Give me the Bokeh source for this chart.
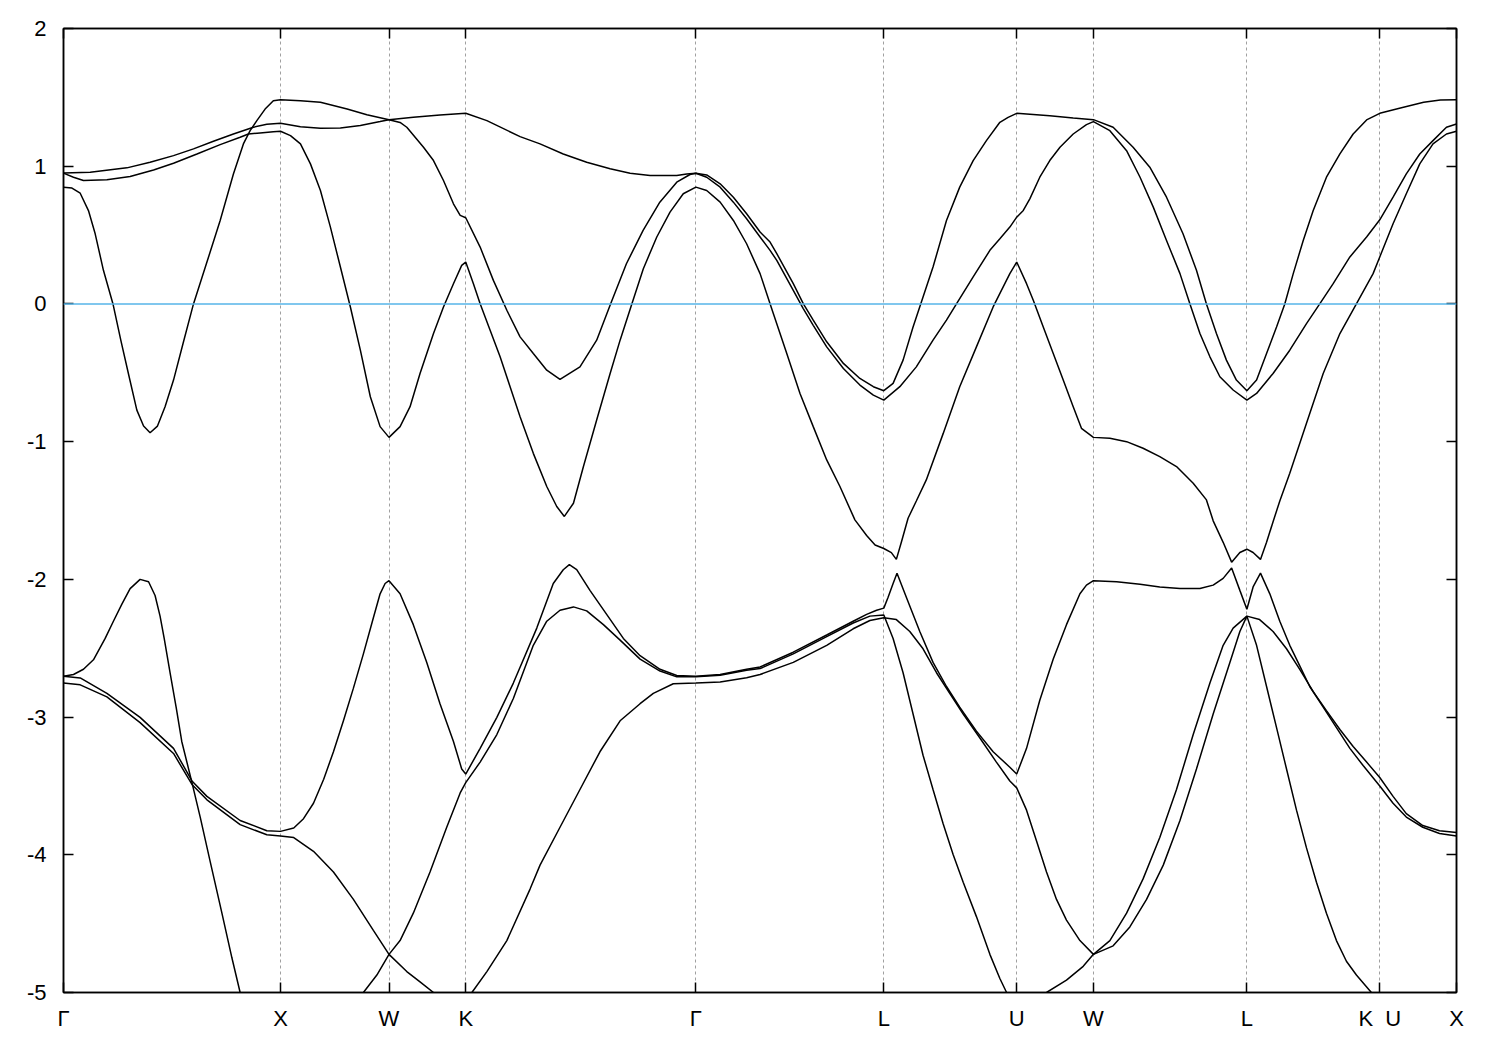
from bokeh.plotting import figure
from bokeh.models import Range1d, FixedTicker, LinearAxis, Span
from bokeh.embed import file_html
from bokeh.resources import INLINE

# high-symmetry points along the path (k in units of 2*pi/a)
tick_k = [0.0, 1.0, 1.5, 1.8536, 2.9142, 3.7802, 4.3926, 4.7462, 5.4533, 6.0657, 6.4193]
tick_labels = ["Γ", "X", "W", "K", "Γ", "L", "U", "W", "L", "K\u00a0\u00a0U", "X"]
y_ticks = [2, 1, 0, -1, -2, -3, -4, -5]
fermi_level = 0.0

# ---- bands (k, E in eV) ----
band1_k = [0, 0.123, 0.292, 0.399, 0.507, 0.599, 0.691, 0.783, 0.875, 0.937, 1.0,
           1.092, 1.184, 1.276, 1.368, 1.459, 1.5,
           1.612, 1.735, 1.8536,
           1.951, 2.104, 2.196, 2.303, 2.411, 2.519, 2.611, 2.703, 2.826, 2.872, 2.9142,
           2.964, 3.026, 3.087, 3.148, 3.210, 3.256, 3.287, 3.363, 3.409, 3.455, 3.517, 3.594, 3.670, 3.732, 3.7802,
           3.823, 3.869, 3.915, 3.961, 4.007, 4.069, 4.130, 4.192, 4.253, 4.315, 4.353, 4.3926,
           4.545, 4.653, 4.7462,
           4.837, 4.929, 5.006, 5.083, 5.159, 5.221, 5.267, 5.313, 5.359, 5.405, 5.4533,
           5.498, 5.544, 5.590, 5.628, 5.667, 5.713, 5.759, 5.820, 5.882, 5.943, 6.005, 6.0657, 6.161, 6.268, 6.345, 6.4193]
band1_e = [0.95, 0.957, 0.988, 1.029, 1.077, 1.126, 1.181, 1.234, 1.283, 1.304, 1.312,
           1.287, 1.275, 1.278, 1.295, 1.324, 1.338,
           1.355, 1.372, 1.384,
           1.331, 1.215, 1.162, 1.089, 1.029, 0.981, 0.949, 0.932, 0.932, 0.944, 0.949,
           0.937, 0.872, 0.775, 0.655, 0.522, 0.449, 0.365, 0.147, 0.002, -0.118, -0.275, -0.432, -0.541, -0.601, -0.630,
           -0.577, -0.408, -0.167, 0.051, 0.268, 0.606, 0.848, 1.041, 1.186, 1.319, 1.355, 1.384,
           1.367, 1.350, 1.338,
           1.283, 1.138, 0.993, 0.775, 0.510, 0.244, 0.0, -0.215, -0.408, -0.553, -0.630,
           -0.553, -0.360, -0.167, 0.0, 0.220, 0.461, 0.679, 0.920, 1.089, 1.234, 1.336, 1.384, 1.423, 1.464, 1.481, 1.483]

band2_k = [0, 0.046, 0.092, 0.200, 0.307, 0.415, 0.507, 0.615, 0.722, 0.814, 0.852, 0.906, 0.967, 1.0,
           1.046, 1.092, 1.138, 1.184, 1.230, 1.276, 1.322, 1.368, 1.414, 1.459, 1.5, 1.551, 1.597, 1.643, 1.705, 1.751, 1.797, 1.835, 1.8536,
           1.889, 1.920, 1.966, 2.012, 2.058, 2.104, 2.165, 2.227, 2.273, 2.308, 2.350, 2.396, 2.457, 2.519, 2.565, 2.619, 2.672, 2.734, 2.795, 2.856, 2.9142,
           2.964, 3.026, 3.087, 3.148, 3.210, 3.256, 3.271, 3.333, 3.394, 3.455, 3.517, 3.578, 3.647, 3.701, 3.740, 3.7802,
           3.815, 3.838, 3.861, 3.892, 3.930, 3.976, 4.054, 4.130, 4.207, 4.284, 4.361, 4.3926,
           4.438, 4.469, 4.515, 4.561, 4.607, 4.653, 4.691, 4.7462,
           4.822, 4.899, 4.975, 5.052, 5.129, 5.206, 5.267, 5.298, 5.344, 5.383, 5.421, 5.4533,
           5.482, 5.516, 5.544, 5.574, 5.605, 5.651, 5.728, 5.805, 5.882, 5.958, 6.035, 6.0657, 6.127, 6.188, 6.250, 6.311, 6.373, 6.4193]
band2_e = [0.95, 0.920, 0.896, 0.901, 0.925, 0.973, 1.022, 1.089, 1.157, 1.210, 1.234, 1.242, 1.251, 1.254,
           1.222, 1.162, 1.017, 0.824, 0.558, 0.268, -0.022, -0.336, -0.674, -0.891, -0.969, -0.891, -0.746, -0.505, -0.215, -0.022, 0.147, 0.280, 0.304,
           0.147, 0.002, -0.191, -0.384, -0.601, -0.819, -1.085, -1.326, -1.471, -1.543, -1.447, -1.181, -0.843, -0.505, -0.263, 0.0, 0.256, 0.486, 0.667, 0.800, 0.848,
           0.824, 0.739, 0.606, 0.437, 0.220, 0.002, -0.070, -0.360, -0.650, -0.891, -1.133, -1.326, -1.568, -1.681, -1.751, -1.776,
           -1.806, -1.855, -1.731, -1.556, -1.431, -1.278, -0.940, -0.601, -0.312, -0.022, 0.220, 0.304,
           0.147, 0.027, -0.167, -0.360, -0.553, -0.746, -0.903, -0.969,
           -0.976, -1.000, -1.048, -1.109, -1.181, -1.302, -1.423, -1.575, -1.731, -1.875, -1.805, -1.781,
           -1.805, -1.855, -1.731, -1.581, -1.431, -1.229, -0.867, -0.505, -0.215, 0.0, 0.220, 0.341, 0.582, 0.800, 1.017, 1.162, 1.234, 1.254]

band3_k = [0, 0.039, 0.077, 0.115, 0.146, 0.184, 0.228, 0.264, 0.299, 0.338, 0.369, 0.399, 0.433, 0.468, 0.507, 0.553, 0.599, 0.661, 0.722, 0.783, 0.829, 0.860, 0.891, 0.929, 0.967, 1.0,
           1.092, 1.184, 1.307, 1.398, 1.5,
           1.551, 1.582, 1.659, 1.705, 1.751, 1.797, 1.828, 1.8536,
           1.920, 1.981, 2.043, 2.104, 2.165, 2.227, 2.288, 2.380, 2.457, 2.521, 2.594, 2.671, 2.748, 2.826, 2.887, 2.9142,
           2.964, 3.026, 3.087, 3.148, 3.210, 3.256, 3.287, 3.363, 3.409, 3.455, 3.517, 3.594, 3.670, 3.732, 3.7802,
           3.854, 3.930, 4.007, 4.069, 4.115, 4.192, 4.269, 4.315, 4.361, 4.3926,
           4.423, 4.453, 4.499, 4.545, 4.592, 4.653, 4.714, 4.7462,
           4.822, 4.899, 4.961, 5.022, 5.083, 5.145, 5.191, 5.237, 5.283, 5.329, 5.390, 5.4533,
           5.498, 5.574, 5.651, 5.728, 5.789, 5.851, 5.928, 6.005, 6.0657, 6.127, 6.188, 6.250, 6.311, 6.373, 6.4193]
band3_e = [0.848, 0.841, 0.804, 0.678, 0.509, 0.244, 0.0, -0.263, -0.505, -0.771, -0.887, -0.935, -0.887, -0.746, -0.553, -0.275, 0.0, 0.304, 0.606, 0.944, 1.162, 1.259, 1.331, 1.415, 1.476, 1.483,
           1.476, 1.464, 1.415, 1.374, 1.338,
           1.318, 1.283, 1.138, 1.041, 0.896, 0.727, 0.643, 0.626,
           0.413, 0.171, -0.046, -0.239, -0.360, -0.481, -0.548, -0.457, -0.263, 0.0, 0.292, 0.534, 0.739, 0.884, 0.940, 0.949,
           0.920, 0.848, 0.739, 0.618, 0.486, 0.389, 0.316, 0.099, -0.034, -0.155, -0.312, -0.469, -0.589, -0.662, -0.698,
           -0.601, -0.457, -0.263, -0.118, 0.0, 0.196, 0.389, 0.473, 0.558, 0.630,
           0.679, 0.763, 0.920, 1.041, 1.138, 1.234, 1.302, 1.324,
           1.258, 1.113, 0.920, 0.703, 0.461, 0.220, 0.0, -0.215, -0.384, -0.529, -0.625, -0.698,
           -0.650, -0.505, -0.336, -0.143, 0.0, 0.147, 0.341, 0.486, 0.611, 0.775, 0.944, 1.089, 1.186, 1.283, 1.307]

band4_k = [0, 0.046, 0.092, 0.138, 0.192, 0.230, 0.269, 0.307, 0.353, 0.392, 0.422, 0.445, 0.464, 0.491, 0.519, 0.545, 0.592, 0.630, 0.676, 0.730, 0.776, 0.814]
band4_e = [-2.703, -2.691, -2.653, -2.584, -2.429, -2.304, -2.180, -2.067, -2.0, -2.017, -2.117, -2.267, -2.429, -2.678, -2.928, -3.177, -3.476, -3.726, -4.050, -4.424, -4.748, -5.0]

band5_k = [0, 0.077, 0.200, 0.353, 0.507, 0.592, 0.661, 0.814, 0.937, 1.0,
           1.061, 1.106, 1.152, 1.199, 1.244, 1.290, 1.336, 1.382, 1.428, 1.459, 1.482, 1.5,
           1.551, 1.612, 1.674, 1.735, 1.797, 1.835, 1.8536,
           1.920, 1.997, 2.073, 2.181, 2.257, 2.303, 2.331, 2.365, 2.426, 2.503, 2.580, 2.657, 2.749, 2.826, 2.9142,
           3.026, 3.148, 3.210, 3.363, 3.517, 3.639, 3.701, 3.747, 3.7802,
           3.800, 3.823, 3.841, 3.884, 3.946, 4.007, 4.069, 4.130, 4.207, 4.284, 4.361, 4.3926,
           4.438, 4.499, 4.561, 4.622, 4.684, 4.714, 4.7462,
           4.853, 4.961, 5.052, 5.145, 5.237, 5.298, 5.344, 5.383, 5.421, 5.4533,
           5.482, 5.516, 5.559, 5.605, 5.651, 5.697, 5.743, 5.805, 5.866, 5.928, 5.989, 6.0657, 6.127, 6.188, 6.264, 6.341, 6.4193]
band5_e = [-2.703, -2.716, -2.828, -3.002, -3.227, -3.464, -3.576, -3.751, -3.825, -3.830,
           -3.805, -3.738, -3.626, -3.451, -3.252, -3.027, -2.790, -2.541, -2.279, -2.105, -2.030, -2.010,
           -2.105, -2.329, -2.603, -2.903, -3.177, -3.377, -3.414,
           -3.227, -3.002, -2.753, -2.354, -2.030, -1.930, -1.893, -1.930, -2.080, -2.254, -2.429, -2.554, -2.653, -2.698, -2.703,
           -2.691, -2.653, -2.636, -2.529, -2.404, -2.304, -2.254, -2.224, -2.209,
           -2.130, -2.030, -1.955, -2.130, -2.379, -2.603, -2.778, -2.928, -3.102, -3.252, -3.364, -3.414,
           -3.227, -2.878, -2.579, -2.329, -2.105, -2.042, -2.010,
           -2.017, -2.035, -2.055, -2.067, -2.067, -2.042, -1.993, -1.918, -2.080, -2.217,
           -2.055, -1.955, -2.105, -2.304, -2.479, -2.628, -2.778, -2.928, -3.077, -3.227, -3.352, -3.501, -3.626, -3.726, -3.800, -3.845, -3.863]

band6_k = [0, 0.077, 0.200, 0.353, 0.507, 0.592, 0.661, 0.814, 0.937, 1.0, 1.061, 1.152, 1.244, 1.336, 1.428, 1.5, 1.582, 1.643, 1.705]
band6_e = [-2.753, -2.766, -2.853, -3.040, -3.264, -3.489, -3.601, -3.781, -3.855, -3.863, -3.875, -3.975, -4.125, -4.324, -4.549, -4.723, -4.848, -4.923, -5.0]

band7_k = [1.382, 1.444, 1.5, 1.551, 1.612, 1.689, 1.766, 1.828, 1.8536,
           1.920, 1.997, 2.073, 2.165, 2.227, 2.288, 2.350, 2.411, 2.488, 2.565, 2.657, 2.749, 2.826, 2.9142,
           3.026, 3.148, 3.210, 3.363, 3.517, 3.639, 3.716, 3.7802,
           3.823, 3.869, 3.915, 3.961, 4.007, 4.054, 4.100, 4.146, 4.207, 4.269, 4.315, 4.346]
band7_e = [-5.0, -4.873, -4.723, -4.623, -4.424, -4.125, -3.800, -3.551, -3.476,
           -3.327, -3.127, -2.865, -2.479, -2.304, -2.224, -2.2, -2.229, -2.329, -2.441, -2.579, -2.666, -2.708, -2.708,
           -2.696, -2.66, -2.648, -2.541, -2.416, -2.317, -2.267, -2.259,
           -2.429, -2.678, -2.978, -3.277, -3.526, -3.776, -4.0, -4.2, -4.449, -4.723, -4.898, -5.0]

band8_k = [1.882, 1.951, 2.043, 2.150, 2.196, 2.288, 2.380, 2.472, 2.565, 2.657, 2.718, 2.810, 2.9142,
           3.026, 3.148, 3.210, 3.363, 3.517, 3.639, 3.716, 3.7802,
           3.838, 3.900, 3.961, 4.023, 4.084, 4.146, 4.223, 4.299, 4.361, 4.3926,
           4.438, 4.484, 4.530, 4.576, 4.622, 4.684, 4.7462,
           4.822, 4.899, 4.975, 5.052, 5.129, 5.206, 5.283, 5.344, 5.390, 5.4533,
           5.498, 5.544, 5.590, 5.636, 5.682, 5.728, 5.774, 5.820, 5.866, 5.912, 5.958, 6.027]
band8_e = [-5.0, -4.848, -4.623, -4.249, -4.075, -3.800, -3.526, -3.252, -3.027, -2.903, -2.828, -2.758, -2.753,
           -2.745, -2.715, -2.691, -2.603, -2.479, -2.359, -2.299, -2.279,
           -2.292, -2.379, -2.504, -2.678, -2.828, -2.978, -3.152, -3.327, -3.464, -3.514,
           -3.676, -3.900, -4.125, -4.324, -4.474, -4.623, -4.723,
           -4.623, -4.424, -4.175, -3.875, -3.526, -3.127, -2.753, -2.479, -2.354, -2.267,
           -2.479, -2.778, -3.077, -3.377, -3.676, -3.950, -4.200, -4.424, -4.623, -4.773, -4.873, -5.0]

band9_k = [4.530, 4.622, 4.699, 4.7462,
           4.837, 4.914, 4.991, 5.068, 5.145, 5.221, 5.298, 5.375, 5.421, 5.4533,
           5.512, 5.574, 5.636, 5.697, 5.759, 5.820, 5.882, 5.943, 6.005, 6.0657, 6.127, 6.188, 6.264, 6.341, 6.4193]
band9_e = [-5.0, -4.910, -4.810, -4.723,
           -4.661, -4.524, -4.324, -4.075, -3.751, -3.377, -2.978, -2.603, -2.379, -2.267,
           -2.292, -2.379, -2.504, -2.653, -2.815, -2.953, -3.090, -3.214, -3.327, -3.439, -3.576, -3.701, -3.788, -3.825, -3.838]

bands = [(band1_k, band1_e), (band2_k, band2_e), (band3_k, band3_e),
         (band4_k, band4_e), (band5_k, band5_e), (band6_k, band6_e),
         (band7_k, band7_e), (band8_k, band8_e), (band9_k, band9_e)]

FONT = "Liberation Sans"
LABEL_SIZE = "22px"

p = figure(frame_width=1393, frame_height=964,
           x_range=Range1d(tick_k[0], tick_k[-1]), y_range=Range1d(-5, 2),
           output_backend="svg", toolbar_location=None,
           min_border_left=63, min_border_top=28, min_border_right=30, min_border_bottom=45,
           background_fill_color="white", border_fill_color="white")

p.outline_line_color = "black"
p.outline_line_width = 1.5

# grid: dashed verticals at internal high-symmetry points
p.ygrid.visible = False
p.xgrid.ticker = FixedTicker(ticks=tick_k[1:-1])
p.xgrid.grid_line_color = "#a0a0a0"
p.xgrid.grid_line_dash = "3 3"
p.xgrid.grid_line_width = 1

# bottom axis
xa = p.xaxis[0]
xa.ticker = FixedTicker(ticks=tick_k)
xa.major_label_overrides = {k: lab for k, lab in zip(tick_k, tick_labels)}
xa.major_label_text_font = FONT
xa.major_label_text_font_size = LABEL_SIZE
xa.major_label_text_color = "black"
xa.major_label_standoff = 13
xa.major_tick_in = 10
xa.major_tick_out = 0
xa.minor_tick_line_color = None
xa.axis_line_width = 1.5
xa.major_tick_line_width = 1.5

# left axis
ya = p.yaxis[0]
ya.ticker = FixedTicker(ticks=y_ticks)
ya.major_label_overrides = {v: str(v) for v in y_ticks}
ya.major_label_text_font = FONT
ya.major_label_text_font_size = LABEL_SIZE
ya.major_label_text_color = "black"
ya.major_label_standoff = 17
ya.major_tick_in = 10
ya.major_tick_out = 0
ya.minor_tick_line_color = None
ya.axis_line_width = 1.5
ya.major_tick_line_width = 1.5

# mirrored axes (ticks only)
top = LinearAxis(ticker=FixedTicker(ticks=tick_k), major_label_overrides={k: "" for k in tick_k},
                 major_tick_in=10, major_tick_out=0, minor_tick_line_color=None,
                 axis_line_width=1.5, major_tick_line_width=1.5, major_label_standoff=0,
                 major_label_text_font_size="1px")
right = LinearAxis(ticker=FixedTicker(ticks=y_ticks), major_label_overrides={v: "" for v in y_ticks},
                   major_tick_in=10, major_tick_out=0, minor_tick_line_color=None,
                   axis_line_width=1.5, major_tick_line_width=1.5, major_label_standoff=0,
                   major_label_text_font_size="1px")
p.add_layout(top, "above")
p.add_layout(right, "right")

for ks, es in bands:
    p.line(ks, es, line_color="black", line_width=1.5)

p.add_layout(Span(location=fermi_level, dimension="width", line_color="#56b4e9", line_width=1.5))

open("out.html", "w").write(file_html(p, INLINE))
